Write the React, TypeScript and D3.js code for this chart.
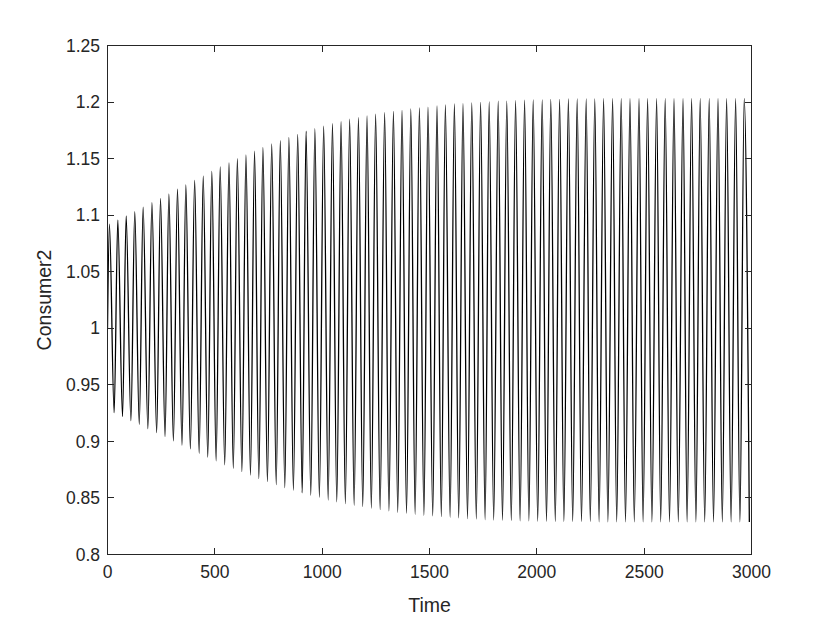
import React from 'react'
import * as d3 from 'd3'

// peaks / troughs of the Consumer2 oscillation
const peakTimes = [
  9, 48, 87, 127, 166, 207, 247, 286, 326, 365,
  406, 446, 486, 525, 566, 605, 645, 685, 724, 765,
  805, 845, 886, 925, 966, 1007, 1048, 1088, 1128, 1169,
  1209, 1249, 1291, 1332, 1372, 1413, 1453, 1493, 1535, 1574,
  1616, 1656, 1697, 1738, 1778, 1820, 1860, 1901, 1943, 1983,
  2025, 2065, 2106, 2147, 2188, 2230, 2270, 2311, 2353, 2393,
  2434, 2476, 2516, 2558, 2598, 2639, 2681, 2721, 2761, 2803,
  2844, 2884, 2926, 2966,
]
const peakValues = [
  1.092, 1.0957, 1.0993, 1.1031, 1.107, 1.111, 1.1149, 1.1187, 1.1229, 1.1267,
  1.1308, 1.1346, 1.1388, 1.1426, 1.1461, 1.1499, 1.1532, 1.1565, 1.16, 1.1629,
  1.1658, 1.1688, 1.1715, 1.1743, 1.1765, 1.1786, 1.1809, 1.1826, 1.1848, 1.1862,
  1.1877, 1.1892, 1.1906, 1.1918, 1.1927, 1.1939, 1.1948, 1.1956, 1.1965, 1.1974,
  1.1983, 1.1986, 1.1992, 1.1998, 1.2001, 1.2007, 1.2009, 1.2012, 1.2016, 1.2018,
  1.2018, 1.2024, 1.2024, 1.2027, 1.2028, 1.2029, 1.2029, 1.203, 1.203, 1.203,
  1.203, 1.203, 1.203, 1.203, 1.203, 1.203, 1.203, 1.203, 1.203, 1.203,
  1.203, 1.203, 1.203, 1.203,
]
const troughTimes = [
  31, 70, 109, 148, 188, 229, 268, 307, 347, 386,
  427, 467, 506, 546, 586, 626, 666, 705, 745, 786,
  826, 866, 907, 947, 987, 1028, 1068, 1108, 1149, 1189,
  1229, 1270, 1311, 1352, 1393, 1433, 1474, 1515, 1555, 1596,
  1636, 1677, 1718, 1759, 1799, 1840, 1881, 1922, 1963, 2004,
  2045, 2086, 2126, 2167, 2208, 2249, 2290, 2331, 2372, 2413,
  2454, 2495, 2536, 2577, 2618, 2659, 2700, 2741, 2782, 2823,
  2864, 2905, 2946, 2990,
]
const troughValues = [
  0.9254, 0.9219, 0.9183, 0.9151, 0.9113, 0.9077, 0.9042, 0.9004, 0.8966, 0.8933,
  0.8895, 0.886, 0.8827, 0.8792, 0.8762, 0.8732, 0.8701, 0.8671, 0.8644, 0.8617,
  0.8591, 0.8568, 0.8544, 0.8523, 0.8506, 0.8482, 0.8465, 0.845, 0.8435, 0.8423,
  0.8409, 0.8396, 0.8385, 0.8373, 0.8365, 0.8356, 0.8347, 0.8341, 0.8335, 0.8329,
  0.8323, 0.8317, 0.8314, 0.8308, 0.8305, 0.8303, 0.8299, 0.8297, 0.8297, 0.8294,
  0.8292, 0.8291, 0.829, 0.829, 0.829, 0.829, 0.8289, 0.8289, 0.8289, 0.8289,
  0.8289, 0.8288, 0.8288, 0.8288, 0.8288, 0.8288, 0.8288, 0.8288, 0.8288, 0.8288,
  0.8288, 0.8288, 0.8288, 0.8288,
]
const startPoint: [number, number] = [0, 1.0]

const xTicks = [0, 500, 1000, 1500, 2000, 2500, 3000]
const yTicks = [0.8, 0.85, 0.9, 0.95, 1, 1.05, 1.1, 1.15, 1.2, 1.25]

const W = 830
const H = 623
const left = 107.5
const right = 751.5
const top = 45.5
const bottom = 554.5
const axisColor = '#262626'
const font = '"Liberation Sans", Arial, Helvetica, sans-serif'

export default function App() {
  const x = d3.scaleLinear().domain([0, 3000]).range([left, right])
  const y = d3.scaleLinear().domain([0.8, 1.25]).range([bottom, top])

  const points: [number, number][] = [startPoint]
  peakTimes.forEach((t, i) => {
    points.push([t, peakValues[i]])
    points.push([troughTimes[i], troughValues[i]])
  })

  const line = d3.line<[number, number]>()
    .x(d => x(d[0]))
    .y(d => y(d[1]))
    .curve(d3.curveMonotoneX)

  const tickLen = 6.5
  const fmt = (v: number) => String(+v.toFixed(2))

  return <svg width={W} height={H} style={{ position: 'absolute', left: 0, top: 0, background: 'white' }}>
    <rect x={0} y={0} width={W} height={H} fill="white" />
    <defs>
      <clipPath id="plotArea">
        <rect x={left} y={top} width={right - left} height={bottom - top} />
      </clipPath>
    </defs>
    <path d={line(points) || ''} fill="none" stroke="black" strokeWidth={1.3}
          strokeLinejoin="round" clipPath="url(#plotArea)" />

    <g stroke={axisColor} strokeWidth={1} shapeRendering="crispEdges">
      <rect x={left} y={top} width={right - left} height={bottom - top} fill="none" />
      {xTicks.map(t => <g key={'x' + t}>
        <line x1={x(t)} x2={x(t)} y1={bottom} y2={bottom - tickLen} />
        <line x1={x(t)} x2={x(t)} y1={top} y2={top + tickLen} />
      </g>)}
      {yTicks.map(t => <g key={'y' + t}>
        <line x1={left} x2={left + tickLen} y1={y(t)} y2={y(t)} />
        <line x1={right} x2={right - tickLen} y1={y(t)} y2={y(t)} />
      </g>)}
    </g>

    <g fill={axisColor} fontFamily={font} fontSize={17.5}>
      {xTicks.map(t => <text key={'xl' + t} x={x(t)} y={578} textAnchor="middle">{t}</text>)}
      {yTicks.map(t => <text key={'yl' + t} x={100} y={y(t)} dy="0.35em" textAnchor="end">{fmt(t)}</text>)}
    </g>
    <text x={(left + right) / 2} y={612} textAnchor="middle" fill={axisColor}
          fontFamily={font} fontSize={19.5}>Time</text>
    <text transform={`translate(51,${(top + bottom) / 2}) rotate(-90)`} textAnchor="middle"
          fill={axisColor} fontFamily={font} fontSize={19.5}>Consumer2</text>
  </svg>
}
